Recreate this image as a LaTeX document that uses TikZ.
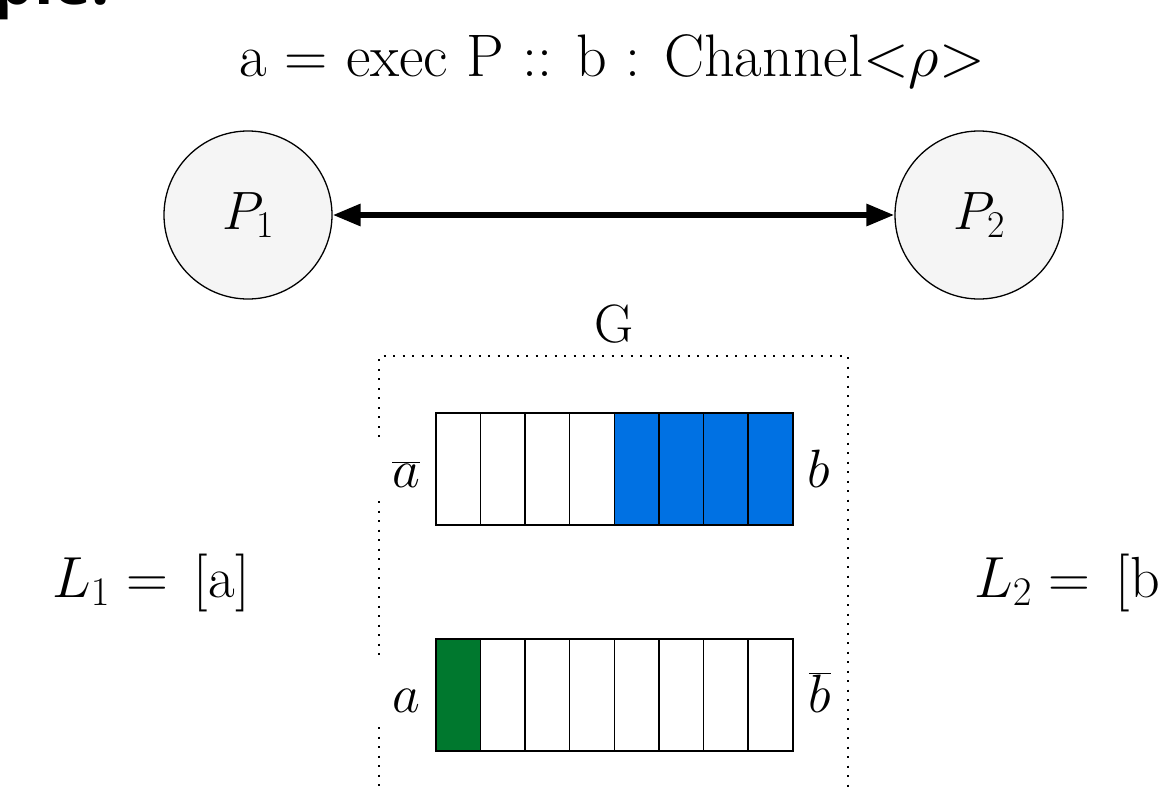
\RequirePackage{fix-cm}
\documentclass[tikz,border=0pt]{standalone}
\usepackage{fontspec}
\newfontfamily\slidefont{Open Sans}
\usetikzlibrary{arrows.meta}
\definecolor{procfill}{RGB}{245,245,245}
\definecolor{bufblue}{RGB}{0,113,227}
\definecolor{bufgreen}{RGB}{0,120,46}
\begin{document}
\begin{tikzpicture}[x=1pt,y=-1pt,
  proc/.style={circle,draw,line width=1.3pt,fill=procfill,minimum size=168pt,inner sep=0pt,font=\fontsize{54}{60}\selectfont},
  cell/.style={draw,line width=1.6pt,minimum width=44.625pt,minimum height=112pt,inner sep=0pt,anchor=north west},
  lbl/.style={font=\fontsize{54}{60}\selectfont,inner sep=0pt},
  lst/.style={font=\fontsize{58}{64}\selectfont,inner sep=0pt},
  ttl/.style={font=\fontsize{60}{66}\selectfont,inner sep=0pt},
  gline/.style={line width=2pt,dash pattern=on 2pt off 7.5pt},
  link/.style={line width=6pt,{Triangle[length=28pt,width=21pt]}-{Triangle[length=28pt,width=21pt]}}]
\useasboundingbox (0,0) rectangle (1161,790);
% cut-off slide heading
\node[anchor=base east,inner sep=0pt,font=\slidefont\bfseries\fontsize{64}{70}\selectfont] (heading) at (110,4) {ple:};
% title
\node[ttl,anchor=base] (title) at (612,76) {a = exec P :: b : Channel{$<$}$\rho${$>$}};
% processes
\node[proc] (p1) at (248,215) {$P_1$};
\node[proc] (p2) at (979,215) {$P_2$};
\draw[link] (p1) -- (p2);
% G box
\node[lbl,anchor=base] (g) at (614,342) {G};
\coordinate (gtl) at (379,356);
\coordinate (gtr) at (848,356);
\coordinate (gbr) at (848,795);
\coordinate (gl1) at (379,437);
\coordinate (gl2) at (379,501);
\coordinate (gl3) at (379,662);
\coordinate (gl4) at (379,727);
\coordinate (gl5) at (379,795);
\draw[gline] (gl1) -- (gtl) -- (gtr) -- (gbr);
\draw[gline] (gl2) -- (gl3);
\draw[gline] (gl4) -- (gl5);
% top buffer
\foreach \i in {0,...,7}{
  \pgfmathsetmacro{\xx}{435+44.625*\i}
  \ifnum\i<4
    \node[cell,fill=white] (t\i) at (\xx,412) {};
  \else
    \node[cell,fill=bufblue] (t\i) at (\xx,412) {};
  \fi
}
% bottom buffer
\foreach \i in {0,...,7}{
  \pgfmathsetmacro{\xx}{435+44.625*\i}
  \ifnum\i=0
    \node[cell,fill=bufgreen] (u\i) at (\xx,638) {};
  \else
    \node[cell,fill=white] (u\i) at (\xx,638) {};
  \fi
}
% end labels
\node[lbl,anchor=base] (abar) at (406,487) {$\overline{a}$};
\node[lbl,anchor=base] (bend) at (819,487) {$b$};
\node[lbl,anchor=base] (aend) at (406,712) {$a$};
\node[lbl,anchor=base] (bbar) at (820,712) {$\overline{b}$};
% lists
\node[lst,anchor=base west] (l1) at (52,597) {$L_1 =$\hspace{0.45em}[a]};
\node[lst,anchor=base west] (l2) at (974,597) {$L_2 =$\hspace{0.45em}[b};
\end{tikzpicture}
\end{document}
